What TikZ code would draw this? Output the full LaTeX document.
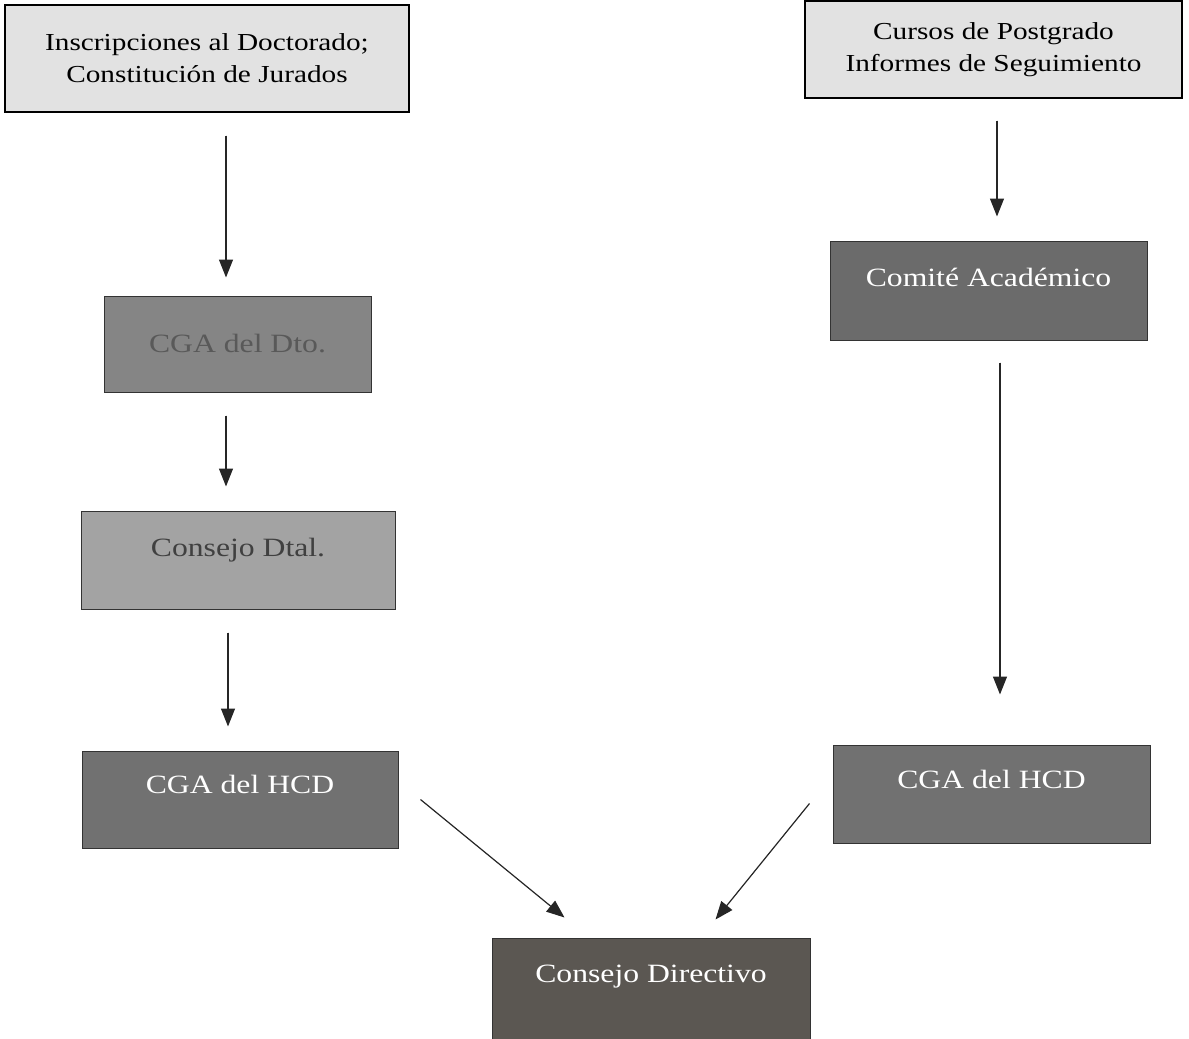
\documentclass[tikz,border=0pt]{standalone}
\usepackage{fontspec}
\setmainfont[FakeStretch=1.2]{Liberation Serif}
\usetikzlibrary{arrows.meta}

\definecolor{lightbox}{HTML}{E2E2E2}
\definecolor{dtobox}{HTML}{858585}
\definecolor{dtalbox}{HTML}{A3A3A3}
\definecolor{hcdbox}{HTML}{717171}
\definecolor{dirbox}{HTML}{5B5752}

\begin{document}
\begin{tikzpicture}[x=0.5pt,y=-0.5pt,>={Triangle[width=7pt,length=9pt]},
  srcbox/.style={draw=black,line width=0.6pt,fill=lightbox,align=center,
    font=\fontsize{12.2}{16}\selectfont,inner sep=0pt},
  darkbox/.style={draw=black!80,line width=0.5pt,inner sep=0pt,
    font=\fontsize{13.2}{15}\selectfont,minimum width=#1},
  arr/.style={->,line width=0.6pt,draw=black!85,fill=black!75}]
  \useasboundingbox (0,0) rectangle (1189,1039);
  % sources
  \node[srcbox,minimum width=202pt,minimum height=53.5pt] (insc) at (207,58.5)
    {Inscripciones al Doctorado;\\Constitución de Jurados};
  \node[srcbox,minimum width=188.5pt,minimum height=48.5pt] (curs) at (993.5,49.5)
    {Cursos de Postgrado\\Informes de Seguimiento};
  % left column
  \node[darkbox=133.5pt,fill=dtobox,text=black!65,text height=28pt,text depth=20pt]
    (dto) at (237.5,344) {CGA del Dto.};
  \node[darkbox=157pt,fill=dtalbox,text=black!75,text height=22.5pt,text depth=26.5pt]
    (dtal) at (238,560) {Consejo Dtal.};
  \node[darkbox=158pt,fill=hcdbox,text=white,text height=21pt,text depth=27.5pt]
    (hcdl) at (240,799.5) {CGA del HCD};
  % right column
  \node[darkbox=158.5pt,fill=hcdbox!95!black,text=white,text height=22.5pt,text depth=27pt]
    (com) at (988.5,290.5) {Comité Académico};
  \node[darkbox=158.5pt,fill=hcdbox,text=white,text height=21.5pt,text depth=27.5pt]
    (hcdr) at (991.5,794) {CGA del HCD};
  % bottom
  \node[darkbox=159pt,fill=dirbox,text=white,text height=22pt,text depth=28.5pt]
    (dir) at (651,988.5) {Consejo Directivo};

  \draw[arr,shorten <=11.5pt,shorten >=9pt] ([xshift=9.5pt]insc.south) -- ([xshift=-5.75pt]dto.north);
  \draw[arr,shorten <=11.5pt,shorten >=12pt] ([xshift=-5.75pt]dto.south) -- ([xshift=-6pt]dtal.north);
  \draw[arr,shorten <=11.5pt,shorten >=12pt] ([xshift=-5pt]dtal.south) -- ([xshift=-6pt]hcdl.north);
  \draw[arr,shorten <=11pt,shorten >=12pt] ([xshift=1.75pt]curs.south) -- ([xshift=4.25pt]com.north);
  \draw[arr,shorten <=11pt,shorten >=25pt] ([xshift=5.75pt]com.south) -- ([xshift=4.25pt]hcdr.north);
  \draw[arr] ([xshift=11pt]hcdl.east) -- ([shift={(36.5pt,10pt)}]dir.north west);
  \draw[arr] ([shift={(-11.5pt,20pt)}]hcdr.south west) -- ([shift={(-47.5pt,9pt)}]dir.north east);
\end{tikzpicture}
\end{document}
